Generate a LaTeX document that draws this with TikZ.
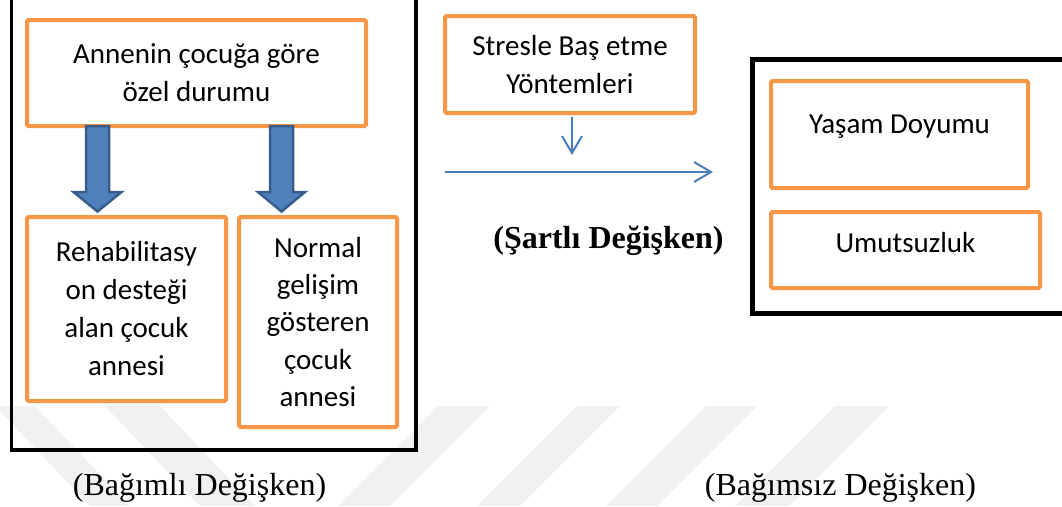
\documentclass[tikz,border=0pt]{standalone}
\usepackage{fontspec}
\setmainfont{Liberation Serif}
\newfontfamily\calibri{Carlito}
\usetikzlibrary{arrows.meta,calc}
\definecolor{obox}{HTML}{F79646}
\definecolor{bfill}{HTML}{4F81BD}
\definecolor{bline}{HTML}{385D8A}
\definecolor{thinblue}{HTML}{4A7EBB}
\definecolor{wm}{HTML}{F1F1F1}
\begin{document}
\begin{tikzpicture}[x=1pt,y=-1pt,
  orangebox/.style={draw=obox,line width=4pt,rounded corners=1.5pt,inner sep=0pt,outer sep=0pt,align=center,font=\calibri\fontsize{29}{38}\selectfont},
  blockarrow/.style={fill=bfill,draw=bline,line width=2.5pt,line join=miter},
  thinarrow/.style={draw=thinblue,line width=2pt,-{Straight Barb[length=17pt,width=20pt]}},
  caption/.style={font=\fontsize{32}{38}\selectfont,inner sep=0pt,anchor=base}]
\useasboundingbox (0,0) rectangle (1062,506);
\begin{scope}
\clip (0,0) rectangle (1062,506);
% faint watermark bands
\fill[wm] (-5,406) -- (35,406) -- (130,506) -- (90,506) -- cycle;
\fill[wm] (105,406) -- (160,406) -- (255,506) -- (200,506) -- cycle;
\fill[wm] (438,406) -- (490,406) -- (390,506) -- (338,506) -- cycle;
\fill[wm] (577,406) -- (620,406) -- (520,506) -- (477,506) -- cycle;
\fill[wm] (706,406) -- (757,406) -- (657,506) -- (606,506) -- cycle;
\fill[wm] (835,406) -- (889,406) -- (789,506) -- (735,506) -- cycle;
% frames
\draw[line width=3.5pt] (11.7,-20) rectangle (416,450);
\draw[line width=5pt] (752.5,59.7) rectangle (1090,313.8);
\end{scope}
% boxes
\node[orangebox, minimum width=339pt, minimum height=106pt] (mother) at (196.5,73) {Annenin çocuğa göre\\özel durumu};
\node[orangebox, minimum width=199pt, minimum height=184pt] (rehab) at (126.5,309) {Rehabilitasy\\on desteği\\alan çocuk\\annesi};
\node[orangebox, minimum width=158pt, minimum height=210pt, font=\calibri\fontsize{29}{37.3}\selectfont] (normal) at (318,322) {Normal\\gelişim\\gösteren\\çocuk\\annesi};
\node[orangebox, minimum width=250pt, minimum height=97pt] (stres) at (570,64.5) {Stresle Baş etme\\Yöntemleri};
\node[orangebox, minimum width=257pt, text height=52pt, text depth=55pt, anchor=base] (yasam) at (899.5,133) {Yaşam Doyumu};
\node[orangebox, minimum width=269pt, text height=40pt, text depth=36pt, anchor=base] (umut) at (905.5,252) {Umutsuzluk};
% block arrows
\coordinate (a1) at ($(mother.south west)+(70.5,0)$);
\coordinate (tip1) at ($(rehab.north -| a1)+(0,-5.5)$);
\draw[blockarrow] ($(a1)+(-11.5,0)$) -- ($(a1)+(-11.5,66)$) -- ($(a1)+(-24,66)$) -- (tip1) -- ($(a1)+(24,66)$) -- ($(a1)+(11.5,66)$) -- ($(a1)+(11.5,0)$) -- cycle;
\coordinate (a2) at ($(mother.south west)+(254.5,0)$);
\coordinate (tip2) at ($(normal.north -| a2)+(0,-5.5)$);
\draw[blockarrow] ($(a2)+(-11.5,0)$) -- ($(a2)+(-11.5,66)$) -- ($(a2)+(-23.5,66)$) -- (tip2) -- ($(a2)+(23.5,66)$) -- ($(a2)+(11.5,66)$) -- ($(a2)+(11.5,0)$) -- cycle;
% thin arrows
\coordinate (vs) at ($(stres.south)+(2,4)$);
\coordinate (ve) at ($(vs)+(0,38)$);
\draw[thinarrow] (vs) -- (ve);
\coordinate (hs) at (445,172);
\coordinate (he) at (713,172);
\draw[thinarrow] (hs) -- (he);
% captions
\node[caption] (dep) at (199.5,495) {(Bağımlı Değişken)};
\node[caption] (indep) at (840.5,495) {(Bağımsız Değişken)};
\node[caption, font=\bfseries\fontsize{32}{38}\selectfont] (cond) at (608.5,248) {(Şartlı Değişken)};
\end{tikzpicture}
\end{document}
